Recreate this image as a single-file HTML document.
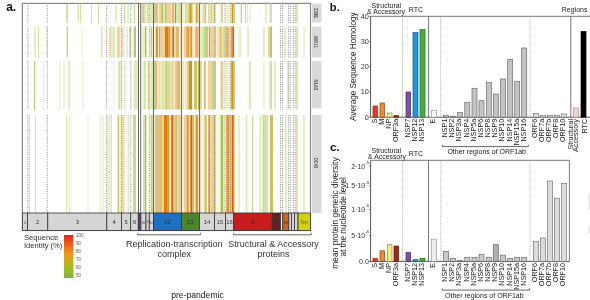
<!DOCTYPE html>
<html><head><meta charset="utf-8"><style>
html,body{margin:0;padding:0;background:#fff;}
body{width:590px;height:300px;overflow:hidden;}
svg{display:block;font-family:"Liberation Sans", sans-serif;filter:blur(0.3px);}
</style></head><body>
<svg width="590" height="300" viewBox="0 0 590 300">
<rect x="22.40" y="3.40" width="288.10" height="227.10" fill="#ffffff" stroke="#8a8a8a" stroke-width="1.2"/>
<rect x="153.50" y="3.50" width="46.10" height="19.50" fill="#faf3de" stroke="none" stroke-width="0.8"/>
<rect x="153.50" y="26.50" width="46.10" height="31.00" fill="#f8edd2" stroke="none" stroke-width="0.8"/>
<rect x="199.60" y="26.50" width="34.90" height="31.00" fill="#fbf5e6" stroke="none" stroke-width="0.8"/>
<rect x="153.50" y="61.00" width="46.10" height="48.50" fill="#f9f2dc" stroke="none" stroke-width="0.8"/>
<rect x="153.50" y="115.00" width="46.10" height="98.00" fill="#f8edd2" stroke="none" stroke-width="0.8"/>
<rect x="199.60" y="115.00" width="34.90" height="98.00" fill="#fbf5e6" stroke="none" stroke-width="0.8"/>
<rect x="66.50" y="3.50" width="1.20" height="19.50" fill="#abcf6c" stroke="none" stroke-width="0.8"/>
<rect x="77.70" y="3.50" width="0.90" height="19.50" fill="#c1dc90" stroke="none" stroke-width="0.8"/>
<rect x="80.20" y="3.50" width="0.80" height="19.50" fill="#c1dc90" stroke="none" stroke-width="0.8"/>
<rect x="91.20" y="3.50" width="0.80" height="19.50" fill="#c1dc90" stroke="none" stroke-width="0.8"/>
<rect x="98.00" y="3.50" width="0.90" height="19.50" fill="#c1dc90" stroke="none" stroke-width="0.8"/>
<rect x="115.60" y="3.50" width="0.90" height="19.50" fill="#c1dc90" stroke="none" stroke-width="0.8"/>
<rect x="124.00" y="3.50" width="0.90" height="19.50" fill="#c1dc90" stroke="none" stroke-width="0.8"/>
<rect x="127.60" y="3.50" width="0.90" height="19.50" fill="#c1dc90" stroke="none" stroke-width="0.8"/>
<rect x="133.80" y="3.50" width="1.20" height="19.50" fill="#c1dc90" stroke="none" stroke-width="0.8"/>
<rect x="141.00" y="3.50" width="1.10" height="19.50" fill="#eef0c8" stroke="none" stroke-width="0.8"/>
<rect x="142.10" y="3.50" width="2.70" height="19.50" fill="#d8d090" stroke="none" stroke-width="0.8"/>
<rect x="144.80" y="3.50" width="1.20" height="19.50" fill="#f3e9b8" stroke="none" stroke-width="0.8"/>
<rect x="146.60" y="3.50" width="2.60" height="19.50" fill="#d5e6ab" stroke="none" stroke-width="0.8"/>
<rect x="150.50" y="3.50" width="2.30" height="19.50" fill="#d5e6ab" stroke="none" stroke-width="0.8"/>
<rect x="154.10" y="3.50" width="1.80" height="19.50" fill="#b6d67c" stroke="none" stroke-width="0.8"/>
<rect x="155.90" y="3.50" width="1.80" height="19.50" fill="#f2ac8a" stroke="none" stroke-width="0.8"/>
<rect x="159.20" y="3.50" width="2.40" height="19.50" fill="#f3cf9a" stroke="none" stroke-width="0.8"/>
<rect x="161.60" y="3.50" width="1.60" height="19.50" fill="#9cc652" stroke="none" stroke-width="0.8"/>
<rect x="163.20" y="3.50" width="1.60" height="19.50" fill="#f3e9b8" stroke="none" stroke-width="0.8"/>
<rect x="164.80" y="3.50" width="1.40" height="19.50" fill="#eab070" stroke="none" stroke-width="0.8"/>
<rect x="166.20" y="3.50" width="1.40" height="19.50" fill="#b6d67c" stroke="none" stroke-width="0.8"/>
<rect x="167.60" y="3.50" width="3.40" height="19.50" fill="#f3cf9a" stroke="none" stroke-width="0.8"/>
<rect x="172.00" y="3.50" width="2.00" height="19.50" fill="#f2ac8a" stroke="none" stroke-width="0.8"/>
<rect x="174.80" y="3.50" width="1.20" height="19.50" fill="#d8920c" stroke="none" stroke-width="0.8"/>
<rect x="176.00" y="3.50" width="3.00" height="19.50" fill="#d5e6ab" stroke="none" stroke-width="0.8"/>
<rect x="179.00" y="3.50" width="1.60" height="19.50" fill="#f3cf9a" stroke="none" stroke-width="0.8"/>
<rect x="181.80" y="3.50" width="1.20" height="19.50" fill="#f3e9b8" stroke="none" stroke-width="0.8"/>
<rect x="185.00" y="3.50" width="1.00" height="19.50" fill="#f3cf9a" stroke="none" stroke-width="0.8"/>
<rect x="186.00" y="3.50" width="2.70" height="19.50" fill="#d5e6ab" stroke="none" stroke-width="0.8"/>
<rect x="188.70" y="3.50" width="0.90" height="19.50" fill="#c3b44a" stroke="none" stroke-width="0.8"/>
<rect x="189.60" y="3.50" width="2.10" height="19.50" fill="#d8920c" stroke="none" stroke-width="0.8"/>
<rect x="191.70" y="3.50" width="0.90" height="19.50" fill="#b6d67c" stroke="none" stroke-width="0.8"/>
<rect x="195.90" y="3.50" width="1.80" height="19.50" fill="#e39430" stroke="none" stroke-width="0.8"/>
<rect x="197.70" y="3.50" width="1.20" height="19.50" fill="#d5e6ab" stroke="none" stroke-width="0.8"/>
<rect x="201.60" y="3.50" width="1.20" height="19.50" fill="#f3e9b8" stroke="none" stroke-width="0.8"/>
<rect x="202.80" y="3.50" width="1.80" height="19.50" fill="#d5e6ab" stroke="none" stroke-width="0.8"/>
<rect x="204.60" y="3.50" width="1.50" height="19.50" fill="#e5b56a" stroke="none" stroke-width="0.8"/>
<rect x="208.20" y="3.50" width="1.20" height="19.50" fill="#d8d090" stroke="none" stroke-width="0.8"/>
<rect x="209.40" y="3.50" width="1.20" height="19.50" fill="#d5e6ab" stroke="none" stroke-width="0.8"/>
<rect x="210.60" y="3.50" width="2.00" height="19.50" fill="#d8d090" stroke="none" stroke-width="0.8"/>
<rect x="212.60" y="3.50" width="1.30" height="19.50" fill="#f3e9b8" stroke="none" stroke-width="0.8"/>
<rect x="213.90" y="3.50" width="1.20" height="19.50" fill="#c3b44a" stroke="none" stroke-width="0.8"/>
<rect x="219.00" y="3.50" width="1.20" height="19.50" fill="#f7f3dd" stroke="none" stroke-width="0.8"/>
<rect x="220.80" y="3.50" width="2.10" height="19.50" fill="#d8d090" stroke="none" stroke-width="0.8"/>
<rect x="225.90" y="3.50" width="3.30" height="19.50" fill="#eef0c8" stroke="none" stroke-width="0.8"/>
<rect x="231.60" y="3.50" width="1.50" height="19.50" fill="#d8920c" stroke="none" stroke-width="0.8"/>
<rect x="233.10" y="3.50" width="1.80" height="19.50" fill="#b6d67c" stroke="none" stroke-width="0.8"/>
<rect x="240.60" y="3.50" width="1.40" height="19.50" fill="#c1dc90" stroke="none" stroke-width="0.8"/>
<rect x="245.00" y="3.50" width="1.00" height="19.50" fill="#c1dc90" stroke="none" stroke-width="0.8"/>
<rect x="247.00" y="3.50" width="1.00" height="19.50" fill="#dbeab8" stroke="none" stroke-width="0.8"/>
<rect x="249.50" y="3.50" width="1.00" height="19.50" fill="#dbeab8" stroke="none" stroke-width="0.8"/>
<rect x="265.50" y="3.50" width="1.00" height="19.50" fill="#c1dc90" stroke="none" stroke-width="0.8"/>
<rect x="269.50" y="3.50" width="1.00" height="19.50" fill="#c1dc90" stroke="none" stroke-width="0.8"/>
<rect x="270.50" y="3.50" width="1.50" height="19.50" fill="#ded7a1" stroke="none" stroke-width="0.8"/>
<rect x="296.50" y="3.50" width="1.00" height="19.50" fill="#ccbf65" stroke="none" stroke-width="0.8"/>
<rect x="34.50" y="26.50" width="1.00" height="31.00" fill="#c1dc90" stroke="none" stroke-width="0.8"/>
<rect x="38.00" y="26.50" width="0.90" height="31.00" fill="#c1dc90" stroke="none" stroke-width="0.8"/>
<rect x="46.50" y="26.50" width="1.00" height="31.00" fill="#dbeab8" stroke="none" stroke-width="0.8"/>
<rect x="66.50" y="26.50" width="1.50" height="31.00" fill="#c1dc90" stroke="none" stroke-width="0.8"/>
<rect x="81.50" y="26.50" width="1.00" height="31.00" fill="#e6f1d4" stroke="none" stroke-width="0.8"/>
<rect x="101.00" y="26.50" width="1.80" height="31.00" fill="#dbeab8" stroke="none" stroke-width="0.8"/>
<rect x="108.80" y="26.50" width="1.10" height="31.00" fill="#dbeab8" stroke="none" stroke-width="0.8"/>
<rect x="109.90" y="26.50" width="1.60" height="31.00" fill="#ecd6a7" stroke="none" stroke-width="0.8"/>
<rect x="111.50" y="26.50" width="1.00" height="31.00" fill="#e6f1d4" stroke="none" stroke-width="0.8"/>
<rect x="112.50" y="26.50" width="2.70" height="31.00" fill="#dbeab8" stroke="none" stroke-width="0.8"/>
<rect x="116.80" y="26.50" width="1.10" height="31.00" fill="#dbeab8" stroke="none" stroke-width="0.8"/>
<rect x="117.90" y="26.50" width="1.00" height="31.00" fill="#debc78" stroke="none" stroke-width="0.8"/>
<rect x="118.90" y="26.50" width="1.60" height="31.00" fill="#dbeab8" stroke="none" stroke-width="0.8"/>
<rect x="121.60" y="26.50" width="2.10" height="31.00" fill="#f7d6c9" stroke="none" stroke-width="0.8"/>
<rect x="125.90" y="26.50" width="2.10" height="31.00" fill="#e6f1d4" stroke="none" stroke-width="0.8"/>
<rect x="129.00" y="26.50" width="2.20" height="31.00" fill="#ded7a1" stroke="none" stroke-width="0.8"/>
<rect x="133.70" y="26.50" width="2.30" height="31.00" fill="#abcf6c" stroke="none" stroke-width="0.8"/>
<rect x="141.20" y="26.50" width="3.80" height="31.00" fill="#eef0c8" stroke="none" stroke-width="0.8"/>
<rect x="145.00" y="26.50" width="1.40" height="31.00" fill="#c3b44a" stroke="none" stroke-width="0.8"/>
<rect x="150.60" y="26.50" width="1.80" height="31.00" fill="#b6d67c" stroke="none" stroke-width="0.8"/>
<rect x="154.00" y="26.50" width="1.50" height="31.00" fill="#f7f3dd" stroke="none" stroke-width="0.8"/>
<rect x="155.70" y="26.50" width="2.30" height="31.00" fill="#e39430" stroke="none" stroke-width="0.8"/>
<rect x="159.00" y="26.50" width="1.40" height="31.00" fill="#9cc652" stroke="none" stroke-width="0.8"/>
<rect x="160.40" y="26.50" width="4.60" height="31.00" fill="#f3cf9a" stroke="none" stroke-width="0.8"/>
<rect x="165.00" y="26.50" width="3.40" height="31.00" fill="#d98000" stroke="none" stroke-width="0.8"/>
<rect x="168.40" y="26.50" width="1.60" height="31.00" fill="#e39430" stroke="none" stroke-width="0.8"/>
<rect x="170.00" y="26.50" width="2.00" height="31.00" fill="#f3cf9a" stroke="none" stroke-width="0.8"/>
<rect x="172.40" y="26.50" width="1.60" height="31.00" fill="#e8581c" stroke="none" stroke-width="0.8"/>
<rect x="174.00" y="26.50" width="2.00" height="31.00" fill="#d5e6ab" stroke="none" stroke-width="0.8"/>
<rect x="176.00" y="26.50" width="3.00" height="31.00" fill="#e5b56a" stroke="none" stroke-width="0.8"/>
<rect x="179.00" y="26.50" width="1.60" height="31.00" fill="#f7f3dd" stroke="none" stroke-width="0.8"/>
<rect x="184.00" y="26.50" width="2.00" height="31.00" fill="#f3cf9a" stroke="none" stroke-width="0.8"/>
<rect x="186.00" y="26.50" width="1.40" height="31.00" fill="#eab070" stroke="none" stroke-width="0.8"/>
<rect x="187.40" y="26.50" width="1.40" height="31.00" fill="#d98000" stroke="none" stroke-width="0.8"/>
<rect x="188.80" y="26.50" width="1.40" height="31.00" fill="#f3cf9a" stroke="none" stroke-width="0.8"/>
<rect x="190.20" y="26.50" width="2.30" height="31.00" fill="#e39430" stroke="none" stroke-width="0.8"/>
<rect x="192.50" y="26.50" width="1.50" height="31.00" fill="#f7f3dd" stroke="none" stroke-width="0.8"/>
<rect x="195.30" y="26.50" width="3.30" height="31.00" fill="#eab070" stroke="none" stroke-width="0.8"/>
<rect x="201.40" y="26.50" width="2.80" height="31.00" fill="#d5e6ab" stroke="none" stroke-width="0.8"/>
<rect x="204.20" y="26.50" width="3.80" height="31.00" fill="#b6d67c" stroke="none" stroke-width="0.8"/>
<rect x="208.90" y="26.50" width="1.40" height="31.00" fill="#e39430" stroke="none" stroke-width="0.8"/>
<rect x="210.30" y="26.50" width="2.80" height="31.00" fill="#f3cf9a" stroke="none" stroke-width="0.8"/>
<rect x="213.10" y="26.50" width="2.80" height="31.00" fill="#d8d090" stroke="none" stroke-width="0.8"/>
<rect x="216.80" y="26.50" width="2.80" height="31.00" fill="#f3e9b8" stroke="none" stroke-width="0.8"/>
<rect x="219.60" y="26.50" width="1.90" height="31.00" fill="#e5b56a" stroke="none" stroke-width="0.8"/>
<rect x="221.50" y="26.50" width="4.20" height="31.00" fill="#d5e6ab" stroke="none" stroke-width="0.8"/>
<rect x="225.70" y="26.50" width="3.70" height="31.00" fill="#e5b56a" stroke="none" stroke-width="0.8"/>
<rect x="231.30" y="26.50" width="1.40" height="31.00" fill="#d98000" stroke="none" stroke-width="0.8"/>
<rect x="232.70" y="26.50" width="1.40" height="31.00" fill="#e8581c" stroke="none" stroke-width="0.8"/>
<rect x="238.30" y="26.50" width="3.30" height="31.00" fill="#e6f1d4" stroke="none" stroke-width="0.8"/>
<rect x="247.50" y="26.50" width="1.00" height="31.00" fill="#c1dc90" stroke="none" stroke-width="0.8"/>
<rect x="263.50" y="26.50" width="1.00" height="31.00" fill="#c1dc90" stroke="none" stroke-width="0.8"/>
<rect x="268.00" y="26.50" width="2.00" height="31.00" fill="#ded7a1" stroke="none" stroke-width="0.8"/>
<rect x="270.00" y="26.50" width="2.00" height="31.00" fill="#ccbf65" stroke="none" stroke-width="0.8"/>
<rect x="284.50" y="26.50" width="1.00" height="31.00" fill="#c1dc90" stroke="none" stroke-width="0.8"/>
<rect x="296.50" y="26.50" width="1.00" height="31.00" fill="#ccbf65" stroke="none" stroke-width="0.8"/>
<rect x="303.50" y="26.50" width="1.00" height="31.00" fill="#dbeab8" stroke="none" stroke-width="0.8"/>
<rect x="34.00" y="61.00" width="1.00" height="48.50" fill="#abcf6c" stroke="none" stroke-width="0.8"/>
<rect x="43.00" y="61.00" width="1.00" height="48.50" fill="#e6f1d4" stroke="none" stroke-width="0.8"/>
<rect x="59.50" y="61.00" width="1.00" height="48.50" fill="#dbeab8" stroke="none" stroke-width="0.8"/>
<rect x="63.50" y="61.00" width="1.00" height="48.50" fill="#dbeab8" stroke="none" stroke-width="0.8"/>
<rect x="68.50" y="61.00" width="1.00" height="48.50" fill="#c1dc90" stroke="none" stroke-width="0.8"/>
<rect x="82.50" y="61.00" width="1.00" height="48.50" fill="#dbeab8" stroke="none" stroke-width="0.8"/>
<rect x="113.30" y="61.00" width="1.00" height="48.50" fill="#e6f1d4" stroke="none" stroke-width="0.8"/>
<rect x="118.40" y="61.00" width="1.60" height="48.50" fill="#ded7a1" stroke="none" stroke-width="0.8"/>
<rect x="120.00" y="61.00" width="2.20" height="48.50" fill="#f1f2d0" stroke="none" stroke-width="0.8"/>
<rect x="123.80" y="61.00" width="2.20" height="48.50" fill="#e6f1d4" stroke="none" stroke-width="0.8"/>
<rect x="133.70" y="61.00" width="3.90" height="48.50" fill="#dbeab8" stroke="none" stroke-width="0.8"/>
<rect x="142.30" y="61.00" width="1.70" height="48.50" fill="#eef0c8" stroke="none" stroke-width="0.8"/>
<rect x="144.00" y="61.00" width="2.00" height="48.50" fill="#d5e6ab" stroke="none" stroke-width="0.8"/>
<rect x="147.70" y="61.00" width="1.30" height="48.50" fill="#d8d090" stroke="none" stroke-width="0.8"/>
<rect x="150.70" y="61.00" width="2.30" height="48.50" fill="#d5e6ab" stroke="none" stroke-width="0.8"/>
<rect x="154.00" y="61.00" width="2.00" height="48.50" fill="#b6d67c" stroke="none" stroke-width="0.8"/>
<rect x="156.00" y="61.00" width="1.00" height="48.50" fill="#f2ac8a" stroke="none" stroke-width="0.8"/>
<rect x="157.00" y="61.00" width="2.00" height="48.50" fill="#f3e9b8" stroke="none" stroke-width="0.8"/>
<rect x="159.00" y="61.00" width="1.00" height="48.50" fill="#d5e6ab" stroke="none" stroke-width="0.8"/>
<rect x="160.00" y="61.00" width="2.00" height="48.50" fill="#f3e9b8" stroke="none" stroke-width="0.8"/>
<rect x="162.00" y="61.00" width="2.00" height="48.50" fill="#d5e6ab" stroke="none" stroke-width="0.8"/>
<rect x="164.00" y="61.00" width="1.30" height="48.50" fill="#f3e9b8" stroke="none" stroke-width="0.8"/>
<rect x="165.30" y="61.00" width="1.70" height="48.50" fill="#b6d67c" stroke="none" stroke-width="0.8"/>
<rect x="167.00" y="61.00" width="3.30" height="48.50" fill="#f3cf9a" stroke="none" stroke-width="0.8"/>
<rect x="170.30" y="61.00" width="1.40" height="48.50" fill="#d5e6ab" stroke="none" stroke-width="0.8"/>
<rect x="171.70" y="61.00" width="2.00" height="48.50" fill="#f3cf9a" stroke="none" stroke-width="0.8"/>
<rect x="175.00" y="61.00" width="1.70" height="48.50" fill="#d8d090" stroke="none" stroke-width="0.8"/>
<rect x="176.70" y="61.00" width="3.30" height="48.50" fill="#e5b56a" stroke="none" stroke-width="0.8"/>
<rect x="182.00" y="61.00" width="2.00" height="48.50" fill="#f3e9b8" stroke="none" stroke-width="0.8"/>
<rect x="185.30" y="61.00" width="1.70" height="48.50" fill="#eef0c8" stroke="none" stroke-width="0.8"/>
<rect x="187.00" y="61.00" width="2.00" height="48.50" fill="#d8d090" stroke="none" stroke-width="0.8"/>
<rect x="189.00" y="61.00" width="3.00" height="48.50" fill="#d8920c" stroke="none" stroke-width="0.8"/>
<rect x="194.00" y="61.00" width="1.00" height="48.50" fill="#b6d67c" stroke="none" stroke-width="0.8"/>
<rect x="195.00" y="61.00" width="2.00" height="48.50" fill="#e5b56a" stroke="none" stroke-width="0.8"/>
<rect x="198.00" y="61.00" width="1.00" height="48.50" fill="#c3b44a" stroke="none" stroke-width="0.8"/>
<rect x="200.00" y="61.00" width="2.00" height="48.50" fill="#d5e6ab" stroke="none" stroke-width="0.8"/>
<rect x="204.00" y="61.00" width="1.70" height="48.50" fill="#e5b56a" stroke="none" stroke-width="0.8"/>
<rect x="208.00" y="61.00" width="3.70" height="48.50" fill="#f3cf9a" stroke="none" stroke-width="0.8"/>
<rect x="211.70" y="61.00" width="1.30" height="48.50" fill="#b6d67c" stroke="none" stroke-width="0.8"/>
<rect x="213.00" y="61.00" width="3.00" height="48.50" fill="#d8d090" stroke="none" stroke-width="0.8"/>
<rect x="219.50" y="61.00" width="1.20" height="48.50" fill="#f7f3dd" stroke="none" stroke-width="0.8"/>
<rect x="220.70" y="61.00" width="2.60" height="48.50" fill="#d8d090" stroke="none" stroke-width="0.8"/>
<rect x="226.00" y="61.00" width="4.00" height="48.50" fill="#eef0c8" stroke="none" stroke-width="0.8"/>
<rect x="231.00" y="61.00" width="1.00" height="48.50" fill="#9cc652" stroke="none" stroke-width="0.8"/>
<rect x="232.00" y="61.00" width="1.30" height="48.50" fill="#d8920c" stroke="none" stroke-width="0.8"/>
<rect x="233.30" y="61.00" width="1.40" height="48.50" fill="#c3b44a" stroke="none" stroke-width="0.8"/>
<rect x="248.70" y="61.00" width="2.60" height="48.50" fill="#dbeab8" stroke="none" stroke-width="0.8"/>
<rect x="263.50" y="61.00" width="1.00" height="48.50" fill="#dbeab8" stroke="none" stroke-width="0.8"/>
<rect x="269.50" y="61.00" width="1.00" height="48.50" fill="#c1dc90" stroke="none" stroke-width="0.8"/>
<rect x="270.50" y="61.00" width="1.50" height="48.50" fill="#ded7a1" stroke="none" stroke-width="0.8"/>
<rect x="274.50" y="61.00" width="1.00" height="48.50" fill="#c1dc90" stroke="none" stroke-width="0.8"/>
<rect x="287.50" y="61.00" width="1.00" height="48.50" fill="#ded7a1" stroke="none" stroke-width="0.8"/>
<rect x="296.50" y="61.00" width="1.00" height="48.50" fill="#ccbf65" stroke="none" stroke-width="0.8"/>
<rect x="29.20" y="115.00" width="0.80" height="98.00" fill="#d4dc8e" stroke="none" stroke-width="0.8"/>
<rect x="35.00" y="115.00" width="0.80" height="98.00" fill="#d4dc8e" stroke="none" stroke-width="0.8"/>
<rect x="66.20" y="115.00" width="0.80" height="98.00" fill="#d4dc8e" stroke="none" stroke-width="0.8"/>
<rect x="68.80" y="115.00" width="0.80" height="98.00" fill="#d4dc8e" stroke="none" stroke-width="0.8"/>
<rect x="71.20" y="115.00" width="0.60" height="98.00" fill="#e6f1d4" stroke="none" stroke-width="0.8"/>
<rect x="87.50" y="115.00" width="1.00" height="98.00" fill="#e6f1d4" stroke="none" stroke-width="0.8"/>
<rect x="99.80" y="115.00" width="1.00" height="98.00" fill="#dbeab8" stroke="none" stroke-width="0.8"/>
<rect x="102.30" y="115.00" width="1.50" height="98.00" fill="#e6f1d4" stroke="none" stroke-width="0.8"/>
<rect x="107.00" y="115.00" width="3.70" height="98.00" fill="#e6f1d4" stroke="none" stroke-width="0.8"/>
<rect x="110.70" y="115.00" width="1.30" height="98.00" fill="#f7d6c9" stroke="none" stroke-width="0.8"/>
<rect x="117.60" y="115.00" width="1.60" height="98.00" fill="#c3c96a" stroke="none" stroke-width="0.8"/>
<rect x="119.20" y="115.00" width="2.30" height="98.00" fill="#f1f2d0" stroke="none" stroke-width="0.8"/>
<rect x="121.50" y="115.00" width="3.00" height="98.00" fill="#f5d6a9" stroke="none" stroke-width="0.8"/>
<rect x="127.60" y="115.00" width="1.50" height="98.00" fill="#dbeab8" stroke="none" stroke-width="0.8"/>
<rect x="133.00" y="115.00" width="3.00" height="98.00" fill="#c1dc90" stroke="none" stroke-width="0.8"/>
<rect x="143.00" y="115.00" width="2.00" height="98.00" fill="#d5e6ab" stroke="none" stroke-width="0.8"/>
<rect x="145.00" y="115.00" width="1.30" height="98.00" fill="#c3b44a" stroke="none" stroke-width="0.8"/>
<rect x="150.70" y="115.00" width="2.00" height="98.00" fill="#b6d67c" stroke="none" stroke-width="0.8"/>
<rect x="154.00" y="115.00" width="1.30" height="98.00" fill="#f3e9b8" stroke="none" stroke-width="0.8"/>
<rect x="155.30" y="115.00" width="1.70" height="98.00" fill="#f2ac8a" stroke="none" stroke-width="0.8"/>
<rect x="157.00" y="115.00" width="3.00" height="98.00" fill="#b6d67c" stroke="none" stroke-width="0.8"/>
<rect x="160.00" y="115.00" width="2.00" height="98.00" fill="#e5b56a" stroke="none" stroke-width="0.8"/>
<rect x="162.00" y="115.00" width="2.00" height="98.00" fill="#f3cf9a" stroke="none" stroke-width="0.8"/>
<rect x="164.00" y="115.00" width="1.00" height="98.00" fill="#d98000" stroke="none" stroke-width="0.8"/>
<rect x="165.00" y="115.00" width="2.70" height="98.00" fill="#d98000" stroke="none" stroke-width="0.8"/>
<rect x="167.70" y="115.00" width="1.30" height="98.00" fill="#e39430" stroke="none" stroke-width="0.8"/>
<rect x="169.00" y="115.00" width="1.70" height="98.00" fill="#f3e9b8" stroke="none" stroke-width="0.8"/>
<rect x="170.70" y="115.00" width="0.60" height="98.00" fill="#f3cf9a" stroke="none" stroke-width="0.8"/>
<rect x="171.30" y="115.00" width="2.00" height="98.00" fill="#e8581c" stroke="none" stroke-width="0.8"/>
<rect x="174.00" y="115.00" width="1.30" height="98.00" fill="#b6d67c" stroke="none" stroke-width="0.8"/>
<rect x="175.30" y="115.00" width="2.00" height="98.00" fill="#e5b56a" stroke="none" stroke-width="0.8"/>
<rect x="177.30" y="115.00" width="1.00" height="98.00" fill="#f3cf9a" stroke="none" stroke-width="0.8"/>
<rect x="178.30" y="115.00" width="2.00" height="98.00" fill="#d8d090" stroke="none" stroke-width="0.8"/>
<rect x="184.00" y="115.00" width="2.70" height="98.00" fill="#f3cf9a" stroke="none" stroke-width="0.8"/>
<rect x="186.70" y="115.00" width="2.00" height="98.00" fill="#e39430" stroke="none" stroke-width="0.8"/>
<rect x="190.00" y="115.00" width="0.70" height="98.00" fill="#e39430" stroke="none" stroke-width="0.8"/>
<rect x="190.70" y="115.00" width="1.30" height="98.00" fill="#e8581c" stroke="none" stroke-width="0.8"/>
<rect x="192.00" y="115.00" width="2.00" height="98.00" fill="#e5b56a" stroke="none" stroke-width="0.8"/>
<rect x="194.00" y="115.00" width="1.70" height="98.00" fill="#eef0c8" stroke="none" stroke-width="0.8"/>
<rect x="195.70" y="115.00" width="2.30" height="98.00" fill="#e39430" stroke="none" stroke-width="0.8"/>
<rect x="200.00" y="115.00" width="1.30" height="98.00" fill="#f3e9b8" stroke="none" stroke-width="0.8"/>
<rect x="204.00" y="115.00" width="1.00" height="98.00" fill="#f3cf9a" stroke="none" stroke-width="0.8"/>
<rect x="205.00" y="115.00" width="2.00" height="98.00" fill="#b6d67c" stroke="none" stroke-width="0.8"/>
<rect x="208.30" y="115.00" width="1.70" height="98.00" fill="#e39430" stroke="none" stroke-width="0.8"/>
<rect x="210.00" y="115.00" width="2.00" height="98.00" fill="#f6cfc0" stroke="none" stroke-width="0.8"/>
<rect x="212.00" y="115.00" width="2.00" height="98.00" fill="#d8d090" stroke="none" stroke-width="0.8"/>
<rect x="214.00" y="115.00" width="1.30" height="98.00" fill="#c3b44a" stroke="none" stroke-width="0.8"/>
<rect x="219.30" y="115.00" width="1.40" height="98.00" fill="#f7f3dd" stroke="none" stroke-width="0.8"/>
<rect x="220.70" y="115.00" width="2.60" height="98.00" fill="#9cc652" stroke="none" stroke-width="0.8"/>
<rect x="223.30" y="115.00" width="1.00" height="98.00" fill="#f3e9b8" stroke="none" stroke-width="0.8"/>
<rect x="226.30" y="115.00" width="3.00" height="98.00" fill="#e39430" stroke="none" stroke-width="0.8"/>
<rect x="229.30" y="115.00" width="2.70" height="98.00" fill="#b6d67c" stroke="none" stroke-width="0.8"/>
<rect x="232.00" y="115.00" width="1.70" height="98.00" fill="#e8581c" stroke="none" stroke-width="0.8"/>
<rect x="233.70" y="115.00" width="0.80" height="98.00" fill="#c3b44a" stroke="none" stroke-width="0.8"/>
<rect x="238.20" y="115.00" width="1.40" height="98.00" fill="#dbeab8" stroke="none" stroke-width="0.8"/>
<rect x="245.70" y="115.00" width="1.70" height="98.00" fill="#dbeab8" stroke="none" stroke-width="0.8"/>
<rect x="252.00" y="115.00" width="1.20" height="98.00" fill="#c1dc90" stroke="none" stroke-width="0.8"/>
<rect x="259.50" y="115.00" width="1.50" height="98.00" fill="#dbeab8" stroke="none" stroke-width="0.8"/>
<rect x="262.50" y="115.00" width="2.00" height="98.00" fill="#c1dc90" stroke="none" stroke-width="0.8"/>
<rect x="264.60" y="115.00" width="1.80" height="98.00" fill="#c1dc90" stroke="none" stroke-width="0.8"/>
<rect x="266.60" y="115.00" width="1.40" height="98.00" fill="#ded7a1" stroke="none" stroke-width="0.8"/>
<rect x="269.80" y="115.00" width="3.20" height="98.00" fill="#ccbf65" stroke="none" stroke-width="0.8"/>
<rect x="285.00" y="115.00" width="1.60" height="98.00" fill="#dbeab8" stroke="none" stroke-width="0.8"/>
<rect x="296.50" y="115.00" width="1.00" height="98.00" fill="#ccbf65" stroke="none" stroke-width="0.8"/>
<rect x="302.50" y="115.00" width="2.50" height="98.00" fill="#e6f1d4" stroke="none" stroke-width="0.8"/>
<line x1="27.8" y1="3.5" x2="27.8" y2="23.0" stroke="#a0a0a0" stroke-width="1.1" stroke-dasharray="1.1,1.2"/>
<line x1="47.3" y1="3.5" x2="47.3" y2="23.0" stroke="#a0a0a0" stroke-width="1.1" stroke-dasharray="1.1,1.2"/>
<line x1="106.6" y1="3.5" x2="106.6" y2="23.0" stroke="#a0a0a0" stroke-width="1.1" stroke-dasharray="1.1,1.2"/>
<line x1="121.5" y1="3.5" x2="121.5" y2="23.0" stroke="#a0a0a0" stroke-width="1.1" stroke-dasharray="1.1,1.2"/>
<line x1="130.7" y1="3.5" x2="130.7" y2="23.0" stroke="#a0a0a0" stroke-width="1.1" stroke-dasharray="1.1,1.2"/>
<line x1="149.5" y1="3.5" x2="149.5" y2="23.0" stroke="#a0a0a0" stroke-width="1.1" stroke-dasharray="1.1,1.2"/>
<line x1="215" y1="3.5" x2="215" y2="23.0" stroke="#a0a0a0" stroke-width="1.1" stroke-dasharray="1.1,1.2"/>
<line x1="225" y1="3.5" x2="225" y2="23.0" stroke="#a0a0a0" stroke-width="1.1" stroke-dasharray="1.1,1.2"/>
<line x1="230.5" y1="3.5" x2="230.5" y2="23.0" stroke="#a0a0a0" stroke-width="1.1" stroke-dasharray="1.1,1.2"/>
<line x1="280.5" y1="3.5" x2="280.5" y2="23.0" stroke="#a0a0a0" stroke-width="1.1" stroke-dasharray="1.1,1.2"/>
<line x1="282.5" y1="3.5" x2="282.5" y2="23.0" stroke="#a0a0a0" stroke-width="1.1" stroke-dasharray="1.1,1.2"/>
<line x1="288.5" y1="3.5" x2="288.5" y2="23.0" stroke="#a0a0a0" stroke-width="1.1" stroke-dasharray="1.1,1.2"/>
<line x1="290.2" y1="3.5" x2="290.2" y2="23.0" stroke="#a0a0a0" stroke-width="1.1" stroke-dasharray="1.1,1.2"/>
<line x1="293.5" y1="3.5" x2="293.5" y2="23.0" stroke="#a0a0a0" stroke-width="1.1" stroke-dasharray="1.1,1.2"/>
<line x1="295.2" y1="3.5" x2="295.2" y2="23.0" stroke="#a0a0a0" stroke-width="1.1" stroke-dasharray="1.1,1.2"/>
<line x1="27.8" y1="26.5" x2="27.8" y2="57.5" stroke="#a0a0a0" stroke-width="1.1" stroke-dasharray="1.1,1.2"/>
<line x1="47.3" y1="26.5" x2="47.3" y2="57.5" stroke="#a0a0a0" stroke-width="1.1" stroke-dasharray="1.1,1.2"/>
<line x1="106.6" y1="26.5" x2="106.6" y2="57.5" stroke="#a0a0a0" stroke-width="1.1" stroke-dasharray="1.1,1.2"/>
<line x1="121.5" y1="26.5" x2="121.5" y2="57.5" stroke="#a0a0a0" stroke-width="1.1" stroke-dasharray="1.1,1.2"/>
<line x1="130.7" y1="26.5" x2="130.7" y2="57.5" stroke="#a0a0a0" stroke-width="1.1" stroke-dasharray="1.1,1.2"/>
<line x1="149.5" y1="26.5" x2="149.5" y2="57.5" stroke="#a0a0a0" stroke-width="1.1" stroke-dasharray="1.1,1.2"/>
<line x1="215" y1="26.5" x2="215" y2="57.5" stroke="#a0a0a0" stroke-width="1.1" stroke-dasharray="1.1,1.2"/>
<line x1="225" y1="26.5" x2="225" y2="57.5" stroke="#a0a0a0" stroke-width="1.1" stroke-dasharray="1.1,1.2"/>
<line x1="230.5" y1="26.5" x2="230.5" y2="57.5" stroke="#a0a0a0" stroke-width="1.1" stroke-dasharray="1.1,1.2"/>
<line x1="280.5" y1="26.5" x2="280.5" y2="57.5" stroke="#a0a0a0" stroke-width="1.1" stroke-dasharray="1.1,1.2"/>
<line x1="282.5" y1="26.5" x2="282.5" y2="57.5" stroke="#a0a0a0" stroke-width="1.1" stroke-dasharray="1.1,1.2"/>
<line x1="288.5" y1="26.5" x2="288.5" y2="57.5" stroke="#a0a0a0" stroke-width="1.1" stroke-dasharray="1.1,1.2"/>
<line x1="290.2" y1="26.5" x2="290.2" y2="57.5" stroke="#a0a0a0" stroke-width="1.1" stroke-dasharray="1.1,1.2"/>
<line x1="293.5" y1="26.5" x2="293.5" y2="57.5" stroke="#a0a0a0" stroke-width="1.1" stroke-dasharray="1.1,1.2"/>
<line x1="295.2" y1="26.5" x2="295.2" y2="57.5" stroke="#a0a0a0" stroke-width="1.1" stroke-dasharray="1.1,1.2"/>
<line x1="27.8" y1="61.0" x2="27.8" y2="109.5" stroke="#a0a0a0" stroke-width="1.1" stroke-dasharray="1.1,1.2"/>
<line x1="47.3" y1="61.0" x2="47.3" y2="109.5" stroke="#a0a0a0" stroke-width="1.1" stroke-dasharray="1.1,1.2"/>
<line x1="106.6" y1="61.0" x2="106.6" y2="109.5" stroke="#a0a0a0" stroke-width="1.1" stroke-dasharray="1.1,1.2"/>
<line x1="121.5" y1="61.0" x2="121.5" y2="109.5" stroke="#a0a0a0" stroke-width="1.1" stroke-dasharray="1.1,1.2"/>
<line x1="130.7" y1="61.0" x2="130.7" y2="109.5" stroke="#a0a0a0" stroke-width="1.1" stroke-dasharray="1.1,1.2"/>
<line x1="149.5" y1="61.0" x2="149.5" y2="109.5" stroke="#a0a0a0" stroke-width="1.1" stroke-dasharray="1.1,1.2"/>
<line x1="215" y1="61.0" x2="215" y2="109.5" stroke="#a0a0a0" stroke-width="1.1" stroke-dasharray="1.1,1.2"/>
<line x1="225" y1="61.0" x2="225" y2="109.5" stroke="#a0a0a0" stroke-width="1.1" stroke-dasharray="1.1,1.2"/>
<line x1="230.5" y1="61.0" x2="230.5" y2="109.5" stroke="#a0a0a0" stroke-width="1.1" stroke-dasharray="1.1,1.2"/>
<line x1="280.5" y1="61.0" x2="280.5" y2="109.5" stroke="#a0a0a0" stroke-width="1.1" stroke-dasharray="1.1,1.2"/>
<line x1="282.5" y1="61.0" x2="282.5" y2="109.5" stroke="#a0a0a0" stroke-width="1.1" stroke-dasharray="1.1,1.2"/>
<line x1="288.5" y1="61.0" x2="288.5" y2="109.5" stroke="#a0a0a0" stroke-width="1.1" stroke-dasharray="1.1,1.2"/>
<line x1="290.2" y1="61.0" x2="290.2" y2="109.5" stroke="#a0a0a0" stroke-width="1.1" stroke-dasharray="1.1,1.2"/>
<line x1="293.5" y1="61.0" x2="293.5" y2="109.5" stroke="#a0a0a0" stroke-width="1.1" stroke-dasharray="1.1,1.2"/>
<line x1="295.2" y1="61.0" x2="295.2" y2="109.5" stroke="#a0a0a0" stroke-width="1.1" stroke-dasharray="1.1,1.2"/>
<line x1="27.8" y1="115.0" x2="27.8" y2="213.0" stroke="#a0a0a0" stroke-width="1.1" stroke-dasharray="1.1,1.2"/>
<line x1="47.3" y1="115.0" x2="47.3" y2="213.0" stroke="#a0a0a0" stroke-width="1.1" stroke-dasharray="1.1,1.2"/>
<line x1="106.6" y1="115.0" x2="106.6" y2="213.0" stroke="#a0a0a0" stroke-width="1.1" stroke-dasharray="1.1,1.2"/>
<line x1="121.5" y1="115.0" x2="121.5" y2="213.0" stroke="#a0a0a0" stroke-width="1.1" stroke-dasharray="1.1,1.2"/>
<line x1="130.7" y1="115.0" x2="130.7" y2="213.0" stroke="#a0a0a0" stroke-width="1.1" stroke-dasharray="1.1,1.2"/>
<line x1="149.5" y1="115.0" x2="149.5" y2="213.0" stroke="#a0a0a0" stroke-width="1.1" stroke-dasharray="1.1,1.2"/>
<line x1="215" y1="115.0" x2="215" y2="213.0" stroke="#a0a0a0" stroke-width="1.1" stroke-dasharray="1.1,1.2"/>
<line x1="225" y1="115.0" x2="225" y2="213.0" stroke="#a0a0a0" stroke-width="1.1" stroke-dasharray="1.1,1.2"/>
<line x1="230.5" y1="115.0" x2="230.5" y2="213.0" stroke="#a0a0a0" stroke-width="1.1" stroke-dasharray="1.1,1.2"/>
<line x1="280.5" y1="115.0" x2="280.5" y2="213.0" stroke="#a0a0a0" stroke-width="1.1" stroke-dasharray="1.1,1.2"/>
<line x1="282.5" y1="115.0" x2="282.5" y2="213.0" stroke="#a0a0a0" stroke-width="1.1" stroke-dasharray="1.1,1.2"/>
<line x1="288.5" y1="115.0" x2="288.5" y2="213.0" stroke="#a0a0a0" stroke-width="1.1" stroke-dasharray="1.1,1.2"/>
<line x1="290.2" y1="115.0" x2="290.2" y2="213.0" stroke="#a0a0a0" stroke-width="1.1" stroke-dasharray="1.1,1.2"/>
<line x1="293.5" y1="115.0" x2="293.5" y2="213.0" stroke="#a0a0a0" stroke-width="1.1" stroke-dasharray="1.1,1.2"/>
<line x1="295.2" y1="115.0" x2="295.2" y2="213.0" stroke="#a0a0a0" stroke-width="1.1" stroke-dasharray="1.1,1.2"/>
<line x1="138.5" y1="3" x2="138.5" y2="213" stroke="#555" stroke-width="0.9"/>
<line x1="140.7" y1="3" x2="140.7" y2="213" stroke="#555" stroke-width="0.9"/>
<line x1="153.5" y1="3" x2="153.5" y2="213" stroke="#555" stroke-width="0.9"/>
<line x1="181.4" y1="3" x2="181.4" y2="213" stroke="#555" stroke-width="0.9"/>
<line x1="199.6" y1="3" x2="199.6" y2="213" stroke="#555" stroke-width="0.9"/>
<rect x="311.80" y="3.50" width="9.70" height="19.00" fill="#d9d9d9" stroke="none" stroke-width="0.8"/>
<text transform="translate(314.2,13.0) rotate(90)" font-size="5.6" font-weight="bold" text-anchor="middle" fill="#555" textLength="10" lengthAdjust="spacingAndGlyphs">229E</text>
<rect x="311.80" y="26.50" width="9.70" height="31.00" fill="#d9d9d9" stroke="none" stroke-width="0.8"/>
<text transform="translate(314.2,42.0) rotate(90)" font-size="5.6" font-weight="bold" text-anchor="middle" fill="#555" textLength="11.5" lengthAdjust="spacingAndGlyphs">HKU1</text>
<rect x="311.80" y="61.00" width="9.70" height="47.50" fill="#d9d9d9" stroke="none" stroke-width="0.8"/>
<text transform="translate(314.2,84.8) rotate(90)" font-size="5.6" font-weight="bold" text-anchor="middle" fill="#555" textLength="10.5" lengthAdjust="spacingAndGlyphs">NL63</text>
<rect x="311.80" y="115.00" width="9.70" height="98.00" fill="#d9d9d9" stroke="none" stroke-width="0.8"/>
<text transform="translate(314.2,163.0) rotate(90)" font-size="5.6" font-weight="bold" text-anchor="middle" fill="#555" textLength="10.5" lengthAdjust="spacingAndGlyphs">OC43</text>
<rect x="22.50" y="213.00" width="5.10" height="17.50" fill="#d6d6d6" stroke="#333" stroke-width="0.8"/>
<rect x="27.60" y="213.00" width="20.20" height="17.50" fill="#d6d6d6" stroke="#333" stroke-width="0.8"/>
<rect x="47.80" y="213.00" width="59.00" height="17.50" fill="#d6d6d6" stroke="#333" stroke-width="0.8"/>
<rect x="106.80" y="213.00" width="14.70" height="17.50" fill="#d6d6d6" stroke="#333" stroke-width="0.8"/>
<rect x="121.50" y="213.00" width="9.20" height="17.50" fill="#d6d6d6" stroke="#333" stroke-width="0.8"/>
<rect x="130.70" y="213.00" width="7.60" height="17.50" fill="#d6d6d6" stroke="#333" stroke-width="0.8"/>
<rect x="138.30" y="213.00" width="2.60" height="17.50" fill="#6a3a96" stroke="#333" stroke-width="0.8"/>
<rect x="140.90" y="213.00" width="5.10" height="17.50" fill="#d6d6d6" stroke="#333" stroke-width="0.8"/>
<rect x="146.00" y="213.00" width="3.30" height="17.50" fill="#d6d6d6" stroke="#333" stroke-width="0.8"/>
<rect x="149.30" y="213.00" width="4.20" height="17.50" fill="#d6d6d6" stroke="#333" stroke-width="0.8"/>
<rect x="153.50" y="213.00" width="27.90" height="17.50" fill="#1f6fc2" stroke="#333" stroke-width="0.8"/>
<rect x="181.40" y="213.00" width="18.10" height="17.50" fill="#4b852c" stroke="#333" stroke-width="0.8"/>
<rect x="199.50" y="213.00" width="15.10" height="17.50" fill="#d6d6d6" stroke="#333" stroke-width="0.8"/>
<rect x="214.60" y="213.00" width="10.90" height="17.50" fill="#d6d6d6" stroke="#333" stroke-width="0.8"/>
<rect x="225.50" y="213.00" width="8.20" height="17.50" fill="#d6d6d6" stroke="#333" stroke-width="0.8"/>
<rect x="233.70" y="213.00" width="38.60" height="17.50" fill="#c91c1c" stroke="#333" stroke-width="0.8"/>
<rect x="272.30" y="213.00" width="8.20" height="17.50" fill="#6a1f1c" stroke="#333" stroke-width="0.8"/>
<rect x="280.50" y="213.00" width="2.30" height="17.50" fill="#f0f0f0" stroke="#333" stroke-width="0.8"/>
<rect x="282.80" y="213.00" width="6.00" height="17.50" fill="#d2621a" stroke="#333" stroke-width="0.8"/>
<rect x="288.80" y="213.00" width="2.80" height="17.50" fill="#d6d6d6" stroke="#333" stroke-width="0.8"/>
<rect x="291.60" y="213.00" width="3.00" height="17.50" fill="#d6d6d6" stroke="#333" stroke-width="0.8"/>
<rect x="294.60" y="213.00" width="3.40" height="17.50" fill="#d6d6d6" stroke="#333" stroke-width="0.8"/>
<rect x="298.00" y="213.00" width="12.50" height="17.50" fill="#d4cf14" stroke="#333" stroke-width="0.8"/>
<text x="25.1" y="223.9" font-size="4.4" text-anchor="middle" fill="#333">1</text>
<text x="37.7" y="223.9" font-size="5.8" text-anchor="middle" fill="#333">2</text>
<text x="77.3" y="223.9" font-size="5.8" text-anchor="middle" fill="#333">3</text>
<text x="114.2" y="223.9" font-size="5.8" text-anchor="middle" fill="#333">4</text>
<text x="126.1" y="223.9" font-size="5.8" text-anchor="middle" fill="#333">5</text>
<text x="134.5" y="223.9" font-size="5.8" text-anchor="middle" fill="#333">6</text>
<text x="143.4" y="223.9" font-size="4.4" text-anchor="middle" fill="#333">8</text>
<text x="147.7" y="223.3" font-size="3.6" text-anchor="middle" fill="#333">9</text>
<text x="151.4" y="223.9" font-size="4.4" text-anchor="middle" fill="#333">10</text>
<text x="167.4" y="223.9" font-size="5.8" text-anchor="middle" fill="#333">12</text>
<text x="190.4" y="223.9" font-size="5.8" text-anchor="middle" fill="#333">13</text>
<text x="207.1" y="223.9" font-size="5.8" text-anchor="middle" fill="#333">14</text>
<text x="220.1" y="223.9" font-size="5.8" text-anchor="middle" fill="#333">15</text>
<text x="229.6" y="223.9" font-size="5.8" text-anchor="middle" fill="#333">16</text>
<text x="253.0" y="223.9" font-size="5.8" text-anchor="middle" fill="#333">S</text>
<text x="276.4" y="223.9" font-size="5.8" text-anchor="middle" fill="#333">3a</text>
<text x="285.8" y="223.9" font-size="4.4" text-anchor="middle" fill="#333">M</text>
<text x="304.2" y="223.9" font-size="5.8" text-anchor="middle" fill="#3a7a2a">Np</text>
<text x="6.2" y="11.3" font-size="12.0" text-anchor="start" fill="#111" font-weight="bold">a.</text>
<defs><linearGradient id="lg" x1="0" y1="0" x2="0" y2="1"><stop offset="0" stop-color="#e4261e"/><stop offset="0.25" stop-color="#ec6a1c"/><stop offset="0.45" stop-color="#eb9a1e"/><stop offset="0.62" stop-color="#c9ad22"/><stop offset="0.8" stop-color="#9cba2c"/><stop offset="1" stop-color="#72b43a"/></linearGradient></defs>
<rect x="64.00" y="235.00" width="9.40" height="43.00" fill="url(#lg)" stroke="none" stroke-width="0.8"/>
<text x="24" y="239.6" font-size="7.6" text-anchor="start" fill="#333" font-weight="normal">Sequence</text>
<text x="24" y="248.2" font-size="7.6" text-anchor="start" fill="#333" font-weight="normal">Identity (%)</text>
<text x="76" y="237.2" font-size="4.6" text-anchor="start" fill="#555" font-weight="normal">100</text>
<text x="76" y="245.14999999999998" font-size="4.6" text-anchor="start" fill="#555" font-weight="normal">90</text>
<text x="76" y="253.1" font-size="4.6" text-anchor="start" fill="#555" font-weight="normal">80</text>
<text x="76" y="261.05" font-size="4.6" text-anchor="start" fill="#555" font-weight="normal">70</text>
<text x="76" y="269.0" font-size="4.6" text-anchor="start" fill="#555" font-weight="normal">60</text>
<text x="76" y="276.95" font-size="4.6" text-anchor="start" fill="#555" font-weight="normal">50</text>
<path d="M137.8,232.8 L137.8,234.8 L200.4,234.8 L200.4,232.8" fill="none" stroke="#555" stroke-width="0.9"/>
<path d="M233.7,232.8 L233.7,234.8 L311.2,234.8 L311.2,232.8" fill="none" stroke="#555" stroke-width="0.9"/>
<text x="174.3" y="247.2" font-size="9.0" text-anchor="middle" fill="#333" font-weight="normal">Replication-transcription</text>
<text x="174.3" y="256.8" font-size="9.0" text-anchor="middle" fill="#333" font-weight="normal">complex</text>
<text x="273.4" y="247.4" font-size="9.0" text-anchor="middle" fill="#333" font-weight="normal">Structural &amp; Accessory</text>
<text x="273.4" y="257" font-size="9.0" text-anchor="middle" fill="#333" font-weight="normal">proteins</text>
<text x="197.5" y="298.2" font-size="8.6" text-anchor="middle" fill="#222" font-weight="normal">pre-pandemic</text>
<text x="329.8" y="11.0" font-size="11.2" text-anchor="start" fill="#111" font-weight="bold">b.</text>
<text x="329.9" y="151.2" font-size="11.6" text-anchor="start" fill="#111" font-weight="bold">c.</text>
<line x1="370.6" y1="16.3" x2="590" y2="16.3" stroke="#555" stroke-width="0.8"/>
<line x1="370.6" y1="16.3" x2="370.6" y2="117.2" stroke="#444" stroke-width="0.9"/>
<line x1="370.6" y1="117.2" x2="590" y2="117.2" stroke="#444" stroke-width="0.9"/>
<line x1="402.5" y1="16.3" x2="402.5" y2="117.2" stroke="#999" stroke-width="0.6" stroke-dasharray="1.5,0.8"/>
<line x1="440.6" y1="16.3" x2="440.6" y2="117.2" stroke="#999" stroke-width="0.6" stroke-dasharray="1.5,0.8"/>
<line x1="530" y1="16.3" x2="530" y2="117.2" stroke="#999" stroke-width="0.6" stroke-dasharray="1.5,0.8"/>
<line x1="428.6" y1="16.3" x2="428.6" y2="117.2" stroke="#555" stroke-width="0.8"/>
<line x1="570.8" y1="16.3" x2="570.8" y2="117.2" stroke="#555" stroke-width="0.8"/>
<rect x="373.00" y="106.00" width="4.40" height="11.20" fill="#e53b24" stroke="#8a2a1a" stroke-width="0.7"/>
<rect x="380.00" y="103.00" width="4.60" height="14.20" fill="#ef8a2f" stroke="#8a4a1a" stroke-width="0.7"/>
<rect x="387.40" y="113.00" width="4.60" height="4.20" fill="#f2ee6a" stroke="#888" stroke-width="0.7"/>
<rect x="394.00" y="115.60" width="4.60" height="1.60" fill="#a3271d" stroke="#5a1a10" stroke-width="0.7"/>
<rect x="406.00" y="92.00" width="4.60" height="25.20" fill="#7d52a3" stroke="#4a2a6a" stroke-width="0.7"/>
<rect x="413.00" y="32.60" width="5.00" height="84.60" fill="#1a9ad9" stroke="#1a5a8a" stroke-width="0.7"/>
<rect x="420.00" y="29.60" width="5.00" height="87.60" fill="#46ad3a" stroke="#2a6a2a" stroke-width="0.7"/>
<rect x="431.50" y="110.40" width="5.00" height="6.80" fill="#ffffff" stroke="#999" stroke-width="0.7"/>
<rect x="443.50" y="115.60" width="5.00" height="1.60" fill="#c4c4c4" stroke="#6a6a6a" stroke-width="0.7"/>
<rect x="450.50" y="116.20" width="5.00" height="1.00" fill="#c4c4c4" stroke="#6a6a6a" stroke-width="0.7"/>
<rect x="457.60" y="112.60" width="5.00" height="4.60" fill="#c4c4c4" stroke="#6a6a6a" stroke-width="0.7"/>
<rect x="464.80" y="102.30" width="5.00" height="14.90" fill="#c4c4c4" stroke="#6a6a6a" stroke-width="0.7"/>
<rect x="472.00" y="88.30" width="5.00" height="28.90" fill="#c4c4c4" stroke="#6a6a6a" stroke-width="0.7"/>
<rect x="479.00" y="100.70" width="5.00" height="16.50" fill="#c4c4c4" stroke="#6a6a6a" stroke-width="0.7"/>
<rect x="486.30" y="82.30" width="5.00" height="34.90" fill="#c4c4c4" stroke="#6a6a6a" stroke-width="0.7"/>
<rect x="493.30" y="94.00" width="5.00" height="23.20" fill="#c4c4c4" stroke="#6a6a6a" stroke-width="0.7"/>
<rect x="500.60" y="79.00" width="5.00" height="38.20" fill="#c4c4c4" stroke="#6a6a6a" stroke-width="0.7"/>
<rect x="507.70" y="59.30" width="5.00" height="57.90" fill="#c4c4c4" stroke="#6a6a6a" stroke-width="0.7"/>
<rect x="514.70" y="81.30" width="5.00" height="35.90" fill="#c4c4c4" stroke="#6a6a6a" stroke-width="0.7"/>
<rect x="521.70" y="48.00" width="5.00" height="69.20" fill="#c4c4c4" stroke="#6a6a6a" stroke-width="0.7"/>
<rect x="533.40" y="113.40" width="5.00" height="3.80" fill="#dcdcdc" stroke="#777" stroke-width="0.7"/>
<rect x="540.60" y="115.40" width="5.00" height="1.80" fill="#dcdcdc" stroke="#777" stroke-width="0.7"/>
<rect x="547.40" y="115.40" width="5.00" height="1.80" fill="#dcdcdc" stroke="#777" stroke-width="0.7"/>
<rect x="554.60" y="115.40" width="5.00" height="1.80" fill="#dcdcdc" stroke="#777" stroke-width="0.7"/>
<rect x="561.40" y="114.00" width="5.00" height="3.20" fill="#dcdcdc" stroke="#777" stroke-width="0.7"/>
<rect x="573.60" y="108.00" width="4.80" height="9.20" fill="#f6cfc6" stroke="#999" stroke-width="0.7"/>
<rect x="581.00" y="31.50" width="5.00" height="85.70" fill="#000" stroke="#000" stroke-width="0.7"/>
<text x="368.8" y="119.5" font-size="7.3" text-anchor="end" fill="#333" font-weight="normal">0</text>
<line x1="369.2" y1="117.2" x2="370.6" y2="117.2" stroke="#444" stroke-width="0.7"/>
<text x="368.8" y="94.27499999999999" font-size="7.3" text-anchor="end" fill="#333" font-weight="normal">10</text>
<line x1="369.2" y1="91.975" x2="370.6" y2="91.975" stroke="#444" stroke-width="0.7"/>
<text x="368.8" y="69.05" font-size="7.3" text-anchor="end" fill="#333" font-weight="normal">20</text>
<line x1="369.2" y1="66.75" x2="370.6" y2="66.75" stroke="#444" stroke-width="0.7"/>
<text x="368.8" y="43.825" font-size="7.3" text-anchor="end" fill="#333" font-weight="normal">30</text>
<line x1="369.2" y1="41.525000000000006" x2="370.6" y2="41.525000000000006" stroke="#444" stroke-width="0.7"/>
<text x="368.8" y="18.599999999999998" font-size="7.3" text-anchor="end" fill="#333" font-weight="normal">40</text>
<line x1="369.2" y1="16.299999999999997" x2="370.6" y2="16.299999999999997" stroke="#444" stroke-width="0.7"/>
<line x1="375.2" y1="117.2" x2="375.2" y2="118.5" stroke="#444" stroke-width="0.6"/>
<text transform="translate(376.5,118.8) rotate(-90)" font-size="7.2" text-anchor="end" fill="#222">S</text>
<line x1="382.3" y1="117.2" x2="382.3" y2="118.5" stroke="#444" stroke-width="0.6"/>
<text transform="translate(383.6,118.8) rotate(-90)" font-size="7.2" text-anchor="end" fill="#222">M</text>
<line x1="389.7" y1="117.2" x2="389.7" y2="118.5" stroke="#444" stroke-width="0.6"/>
<text transform="translate(391.0,118.8) rotate(-90)" font-size="7.2" text-anchor="end" fill="#222">NP</text>
<line x1="396.3" y1="117.2" x2="396.3" y2="118.5" stroke="#444" stroke-width="0.6"/>
<text transform="translate(397.6,118.8) rotate(-90)" font-size="7.2" text-anchor="end" fill="#222">ORF3a</text>
<line x1="408.3" y1="117.2" x2="408.3" y2="118.5" stroke="#444" stroke-width="0.6"/>
<text transform="translate(409.6,118.8) rotate(-90)" font-size="7.2" text-anchor="end" fill="#222">NSP7</text>
<line x1="415.5" y1="117.2" x2="415.5" y2="118.5" stroke="#444" stroke-width="0.6"/>
<text transform="translate(416.8,118.8) rotate(-90)" font-size="7.2" text-anchor="end" fill="#222">NSP12</text>
<line x1="422.5" y1="117.2" x2="422.5" y2="118.5" stroke="#444" stroke-width="0.6"/>
<text transform="translate(423.8,118.8) rotate(-90)" font-size="7.2" text-anchor="end" fill="#222">NSP13</text>
<line x1="434.0" y1="117.2" x2="434.0" y2="118.5" stroke="#444" stroke-width="0.6"/>
<text transform="translate(435.3,118.8) rotate(-90)" font-size="7.2" text-anchor="end" fill="#222">E</text>
<line x1="446.0" y1="117.2" x2="446.0" y2="118.5" stroke="#444" stroke-width="0.6"/>
<text transform="translate(447.3,118.8) rotate(-90)" font-size="7.2" text-anchor="end" fill="#222">NSP1</text>
<line x1="453.0" y1="117.2" x2="453.0" y2="118.5" stroke="#444" stroke-width="0.6"/>
<text transform="translate(454.3,118.8) rotate(-90)" font-size="7.2" text-anchor="end" fill="#222">NSP2</text>
<line x1="460.1" y1="117.2" x2="460.1" y2="118.5" stroke="#444" stroke-width="0.6"/>
<text transform="translate(461.4,118.8) rotate(-90)" font-size="7.2" text-anchor="end" fill="#222">NSP3a</text>
<line x1="467.3" y1="117.2" x2="467.3" y2="118.5" stroke="#444" stroke-width="0.6"/>
<text transform="translate(468.6,118.8) rotate(-90)" font-size="7.2" text-anchor="end" fill="#222">NSP4</text>
<line x1="474.5" y1="117.2" x2="474.5" y2="118.5" stroke="#444" stroke-width="0.6"/>
<text transform="translate(475.8,118.8) rotate(-90)" font-size="7.2" text-anchor="end" fill="#222">NSP5a</text>
<line x1="481.5" y1="117.2" x2="481.5" y2="118.5" stroke="#444" stroke-width="0.6"/>
<text transform="translate(482.8,118.8) rotate(-90)" font-size="7.2" text-anchor="end" fill="#222">NSP6</text>
<line x1="488.8" y1="117.2" x2="488.8" y2="118.5" stroke="#444" stroke-width="0.6"/>
<text transform="translate(490.1,118.8) rotate(-90)" font-size="7.2" text-anchor="end" fill="#222">NSP8</text>
<line x1="495.8" y1="117.2" x2="495.8" y2="118.5" stroke="#444" stroke-width="0.6"/>
<text transform="translate(497.1,118.8) rotate(-90)" font-size="7.2" text-anchor="end" fill="#222">NSP9</text>
<line x1="503.1" y1="117.2" x2="503.1" y2="118.5" stroke="#444" stroke-width="0.6"/>
<text transform="translate(504.4,118.8) rotate(-90)" font-size="7.2" text-anchor="end" fill="#222">NSP10</text>
<line x1="510.20000000000005" y1="117.2" x2="510.20000000000005" y2="118.5" stroke="#444" stroke-width="0.6"/>
<text transform="translate(511.5,118.8) rotate(-90)" font-size="7.2" text-anchor="end" fill="#222">NSP14</text>
<line x1="517.2" y1="117.2" x2="517.2" y2="118.5" stroke="#444" stroke-width="0.6"/>
<text transform="translate(518.5,118.8) rotate(-90)" font-size="7.2" text-anchor="end" fill="#222">NSP15a</text>
<line x1="524.2" y1="117.2" x2="524.2" y2="118.5" stroke="#444" stroke-width="0.6"/>
<text transform="translate(525.5,118.8) rotate(-90)" font-size="7.2" text-anchor="end" fill="#222">NSP16</text>
<line x1="535.9" y1="117.2" x2="535.9" y2="118.5" stroke="#444" stroke-width="0.6"/>
<text transform="translate(537.2,118.8) rotate(-90)" font-size="7.2" text-anchor="end" fill="#222">ORF6</text>
<line x1="543.1" y1="117.2" x2="543.1" y2="118.5" stroke="#444" stroke-width="0.6"/>
<text transform="translate(544.4,118.8) rotate(-90)" font-size="7.2" text-anchor="end" fill="#222">ORF7a</text>
<line x1="549.9" y1="117.2" x2="549.9" y2="118.5" stroke="#444" stroke-width="0.6"/>
<text transform="translate(551.2,118.8) rotate(-90)" font-size="7.2" text-anchor="end" fill="#222">ORF7b</text>
<line x1="557.1" y1="117.2" x2="557.1" y2="118.5" stroke="#444" stroke-width="0.6"/>
<text transform="translate(558.4,118.8) rotate(-90)" font-size="7.2" text-anchor="end" fill="#222">ORF8</text>
<line x1="563.9" y1="117.2" x2="563.9" y2="118.5" stroke="#444" stroke-width="0.6"/>
<text transform="translate(565.2,118.8) rotate(-90)" font-size="7.2" text-anchor="end" fill="#222">ORF10</text>
<text transform="translate(573.4,118.8) rotate(-90)" font-size="7.2" text-anchor="end" fill="#222">Structural</text>
<text transform="translate(577.8,118.8) rotate(-90)" font-size="7.2" text-anchor="end" fill="#222">Accessory</text>
<text transform="translate(586.9,118.8) rotate(-90)" font-size="7.2" text-anchor="end" fill="#222">RTC</text>
<text x="386.3" y="8.4" font-size="6.9" text-anchor="middle" fill="#222" font-weight="normal">Structural</text>
<text x="386.0" y="14.2" font-size="6.9" text-anchor="middle" fill="#222" font-weight="normal">&amp; Accessory</text>
<text x="416" y="11.5" font-size="7.0" text-anchor="middle" fill="#222" font-weight="normal">RTC</text>
<text x="574.6" y="12.1" font-size="7.0" text-anchor="middle" fill="#222" font-weight="normal">Regions</text>
<text transform="translate(355.9,66.7) rotate(-90)" font-size="8.2" text-anchor="middle" fill="#222">Average Sequence Homology</text>
<path d="M442.4,144.79999999999998 L442.4,146.6 L528.4,146.6 L528.4,144.79999999999998" fill="none" stroke="#555" stroke-width="0.9"/>
<text x="486.7" y="153.5" font-size="7.0" text-anchor="middle" fill="#222" font-weight="normal">Other regions of ORF1ab</text>
<line x1="370.6" y1="160.3" x2="569.4" y2="160.3" stroke="#555" stroke-width="0.8"/>
<line x1="370.6" y1="160.3" x2="370.6" y2="261.4" stroke="#444" stroke-width="0.9"/>
<line x1="569.4" y1="160.3" x2="569.4" y2="261.4" stroke="#555" stroke-width="0.8"/>
<line x1="370.6" y1="261.4" x2="569.4" y2="261.4" stroke="#444" stroke-width="0.9"/>
<line x1="402.6" y1="160.3" x2="402.6" y2="261.4" stroke="#999" stroke-width="0.6" stroke-dasharray="1.5,0.8"/>
<line x1="440.8" y1="160.3" x2="440.8" y2="261.4" stroke="#999" stroke-width="0.6" stroke-dasharray="1.5,0.8"/>
<line x1="530" y1="160.3" x2="530" y2="261.4" stroke="#999" stroke-width="0.6" stroke-dasharray="1.5,0.8"/>
<line x1="428.5" y1="160.3" x2="428.5" y2="261.4" stroke="#555" stroke-width="0.8"/>
<rect x="373.00" y="258.50" width="4.40" height="2.90" fill="#e53b24" stroke="#8a2a1a" stroke-width="0.7"/>
<rect x="380.00" y="250.80" width="4.60" height="10.60" fill="#ef8a2f" stroke="#8a4a1a" stroke-width="0.7"/>
<rect x="387.40" y="244.70" width="4.60" height="16.70" fill="#f2ee6a" stroke="#888" stroke-width="0.7"/>
<rect x="394.00" y="246.10" width="4.60" height="15.30" fill="#a3271d" stroke="#5a1a10" stroke-width="0.7"/>
<rect x="406.00" y="252.50" width="4.60" height="8.90" fill="#7d52a3" stroke="#4a2a6a" stroke-width="0.7"/>
<rect x="413.00" y="259.70" width="5.00" height="1.70" fill="#1a9ad9" stroke="#1a5a8a" stroke-width="0.7"/>
<rect x="420.00" y="258.30" width="5.00" height="3.10" fill="#46ad3a" stroke="#2a6a2a" stroke-width="0.7"/>
<rect x="431.50" y="239.20" width="5.00" height="22.20" fill="#efefef" stroke="#999" stroke-width="0.7"/>
<rect x="443.50" y="251.40" width="5.00" height="10.00" fill="#cacaca" stroke="#6a6a6a" stroke-width="0.7"/>
<rect x="450.50" y="258.40" width="5.00" height="3.00" fill="#cacaca" stroke="#6a6a6a" stroke-width="0.7"/>
<rect x="457.60" y="260.30" width="5.00" height="1.10" fill="#cacaca" stroke="#6a6a6a" stroke-width="0.7"/>
<rect x="464.80" y="257.30" width="5.00" height="4.10" fill="#cacaca" stroke="#6a6a6a" stroke-width="0.7"/>
<rect x="472.00" y="257.30" width="5.00" height="4.10" fill="#cacaca" stroke="#6a6a6a" stroke-width="0.7"/>
<rect x="479.00" y="254.50" width="5.00" height="6.90" fill="#cacaca" stroke="#6a6a6a" stroke-width="0.7"/>
<rect x="486.30" y="257.30" width="5.00" height="4.10" fill="#cacaca" stroke="#6a6a6a" stroke-width="0.7"/>
<rect x="493.30" y="244.70" width="5.00" height="16.70" fill="#b0b0b0" stroke="#666" stroke-width="0.7"/>
<rect x="500.60" y="255.20" width="5.00" height="6.20" fill="#cacaca" stroke="#6a6a6a" stroke-width="0.7"/>
<rect x="507.70" y="258.40" width="5.00" height="3.00" fill="#cacaca" stroke="#6a6a6a" stroke-width="0.7"/>
<rect x="514.70" y="257.30" width="5.00" height="4.10" fill="#cacaca" stroke="#6a6a6a" stroke-width="0.7"/>
<rect x="521.70" y="257.30" width="5.00" height="4.10" fill="#cacaca" stroke="#6a6a6a" stroke-width="0.7"/>
<rect x="533.40" y="241.50" width="5.00" height="19.90" fill="#dcdcdc" stroke="#777" stroke-width="0.7"/>
<rect x="540.60" y="238.00" width="5.00" height="23.40" fill="#dcdcdc" stroke="#777" stroke-width="0.7"/>
<rect x="547.40" y="181.00" width="5.00" height="80.40" fill="#dcdcdc" stroke="#777" stroke-width="0.7"/>
<rect x="554.60" y="198.30" width="5.00" height="63.10" fill="#dcdcdc" stroke="#777" stroke-width="0.7"/>
<rect x="561.40" y="183.40" width="5.00" height="78.00" fill="#dcdcdc" stroke="#777" stroke-width="0.7"/>
<line x1="375.2" y1="261.4" x2="375.2" y2="262.7" stroke="#444" stroke-width="0.6"/>
<text transform="translate(376.5,263.0) rotate(-90)" font-size="7.2" text-anchor="end" fill="#222">S</text>
<line x1="382.3" y1="261.4" x2="382.3" y2="262.7" stroke="#444" stroke-width="0.6"/>
<text transform="translate(383.6,263.0) rotate(-90)" font-size="7.2" text-anchor="end" fill="#222">M</text>
<line x1="389.7" y1="261.4" x2="389.7" y2="262.7" stroke="#444" stroke-width="0.6"/>
<text transform="translate(391.0,263.0) rotate(-90)" font-size="7.2" text-anchor="end" fill="#222">NP</text>
<line x1="396.3" y1="261.4" x2="396.3" y2="262.7" stroke="#444" stroke-width="0.6"/>
<text transform="translate(397.6,263.0) rotate(-90)" font-size="7.2" text-anchor="end" fill="#222">ORF3a</text>
<line x1="408.3" y1="261.4" x2="408.3" y2="262.7" stroke="#444" stroke-width="0.6"/>
<text transform="translate(409.6,263.0) rotate(-90)" font-size="7.2" text-anchor="end" fill="#222">NSP7</text>
<line x1="415.5" y1="261.4" x2="415.5" y2="262.7" stroke="#444" stroke-width="0.6"/>
<text transform="translate(416.8,263.0) rotate(-90)" font-size="7.2" text-anchor="end" fill="#222">NSP12</text>
<line x1="422.5" y1="261.4" x2="422.5" y2="262.7" stroke="#444" stroke-width="0.6"/>
<text transform="translate(423.8,263.0) rotate(-90)" font-size="7.2" text-anchor="end" fill="#222">NSP13</text>
<line x1="434.0" y1="261.4" x2="434.0" y2="262.7" stroke="#444" stroke-width="0.6"/>
<text transform="translate(435.3,263.0) rotate(-90)" font-size="7.2" text-anchor="end" fill="#222">E</text>
<line x1="446.0" y1="261.4" x2="446.0" y2="262.7" stroke="#444" stroke-width="0.6"/>
<text transform="translate(447.3,263.0) rotate(-90)" font-size="7.2" text-anchor="end" fill="#222">NSP1</text>
<line x1="453.0" y1="261.4" x2="453.0" y2="262.7" stroke="#444" stroke-width="0.6"/>
<text transform="translate(454.3,263.0) rotate(-90)" font-size="7.2" text-anchor="end" fill="#222">NSP2</text>
<line x1="460.1" y1="261.4" x2="460.1" y2="262.7" stroke="#444" stroke-width="0.6"/>
<text transform="translate(461.4,263.0) rotate(-90)" font-size="7.2" text-anchor="end" fill="#222">NSP3a</text>
<line x1="467.3" y1="261.4" x2="467.3" y2="262.7" stroke="#444" stroke-width="0.6"/>
<text transform="translate(468.6,263.0) rotate(-90)" font-size="7.2" text-anchor="end" fill="#222">NSP4</text>
<line x1="474.5" y1="261.4" x2="474.5" y2="262.7" stroke="#444" stroke-width="0.6"/>
<text transform="translate(475.8,263.0) rotate(-90)" font-size="7.2" text-anchor="end" fill="#222">NSP5a</text>
<line x1="481.5" y1="261.4" x2="481.5" y2="262.7" stroke="#444" stroke-width="0.6"/>
<text transform="translate(482.8,263.0) rotate(-90)" font-size="7.2" text-anchor="end" fill="#222">NSP6</text>
<line x1="488.8" y1="261.4" x2="488.8" y2="262.7" stroke="#444" stroke-width="0.6"/>
<text transform="translate(490.1,263.0) rotate(-90)" font-size="7.2" text-anchor="end" fill="#222">NSP8</text>
<line x1="495.8" y1="261.4" x2="495.8" y2="262.7" stroke="#444" stroke-width="0.6"/>
<text transform="translate(497.1,263.0) rotate(-90)" font-size="7.2" text-anchor="end" fill="#222">NSP9</text>
<line x1="503.1" y1="261.4" x2="503.1" y2="262.7" stroke="#444" stroke-width="0.6"/>
<text transform="translate(504.4,263.0) rotate(-90)" font-size="7.2" text-anchor="end" fill="#222">NSP10</text>
<line x1="510.20000000000005" y1="261.4" x2="510.20000000000005" y2="262.7" stroke="#444" stroke-width="0.6"/>
<text transform="translate(511.5,263.0) rotate(-90)" font-size="7.2" text-anchor="end" fill="#222">NSP14</text>
<line x1="517.2" y1="261.4" x2="517.2" y2="262.7" stroke="#444" stroke-width="0.6"/>
<text transform="translate(518.5,263.0) rotate(-90)" font-size="7.2" text-anchor="end" fill="#222">NSP15a</text>
<line x1="524.2" y1="261.4" x2="524.2" y2="262.7" stroke="#444" stroke-width="0.6"/>
<text transform="translate(525.5,263.0) rotate(-90)" font-size="7.2" text-anchor="end" fill="#222">NSP16</text>
<line x1="535.9" y1="261.4" x2="535.9" y2="262.7" stroke="#444" stroke-width="0.6"/>
<text transform="translate(537.2,263.0) rotate(-90)" font-size="7.2" text-anchor="end" fill="#222">ORF6</text>
<line x1="543.1" y1="261.4" x2="543.1" y2="262.7" stroke="#444" stroke-width="0.6"/>
<text transform="translate(544.4,263.0) rotate(-90)" font-size="7.2" text-anchor="end" fill="#222">ORF7a</text>
<line x1="549.9" y1="261.4" x2="549.9" y2="262.7" stroke="#444" stroke-width="0.6"/>
<text transform="translate(551.2,263.0) rotate(-90)" font-size="7.2" text-anchor="end" fill="#222">ORF7b</text>
<line x1="557.1" y1="261.4" x2="557.1" y2="262.7" stroke="#444" stroke-width="0.6"/>
<text transform="translate(558.4,263.0) rotate(-90)" font-size="7.2" text-anchor="end" fill="#222">ORF8</text>
<line x1="563.9" y1="261.4" x2="563.9" y2="262.7" stroke="#444" stroke-width="0.6"/>
<text transform="translate(565.2,263.0) rotate(-90)" font-size="7.2" text-anchor="end" fill="#222">ORF10</text>
<line x1="369.2" y1="261.5" x2="370.6" y2="261.5" stroke="#444" stroke-width="0.7"/>
<text x="368.8" y="264.0" font-size="7" text-anchor="end" fill="#333">0.0</text>
<line x1="369.2" y1="235.5" x2="370.6" y2="235.5" stroke="#444" stroke-width="0.7"/>
<text x="365.2" y="238.0" font-size="7" text-anchor="end" fill="#333">5·10</text>
<text x="365.4" y="233.3" font-size="4.4" fill="#333">-6</text>
<line x1="369.2" y1="209.6" x2="370.6" y2="209.6" stroke="#444" stroke-width="0.7"/>
<text x="365.2" y="212.1" font-size="7" text-anchor="end" fill="#333">1·10</text>
<text x="365.4" y="207.4" font-size="4.4" fill="#333">-5</text>
<line x1="369.2" y1="185.8" x2="370.6" y2="185.8" stroke="#444" stroke-width="0.7"/>
<text x="365.2" y="188.3" font-size="7" text-anchor="end" fill="#333">1.5·10</text>
<text x="365.4" y="183.6" font-size="4.4" fill="#333">-5</text>
<line x1="369.2" y1="166.2" x2="370.6" y2="166.2" stroke="#444" stroke-width="0.7"/>
<text x="365.2" y="168.7" font-size="7" text-anchor="end" fill="#333">2·10</text>
<text x="365.4" y="164.0" font-size="4.4" fill="#333">-5</text>
<text x="386.3" y="152.5" font-size="6.9" text-anchor="middle" fill="#222" font-weight="normal">Structural</text>
<text x="387.0" y="158.6" font-size="6.9" text-anchor="middle" fill="#222" font-weight="normal">&amp; Accessory</text>
<text x="416" y="155.6" font-size="7.0" text-anchor="middle" fill="#222" font-weight="normal">RTC</text>
<text transform="translate(338.2,213) rotate(-90)" font-size="8.4" text-anchor="middle" fill="#222">mean protein genetic diversity</text>
<text transform="translate(345.7,216.8) rotate(-90)" font-size="8.2" text-anchor="middle" fill="#222">at the nucleotide level</text>
<path d="M442.3,288.3 L442.3,290.1 L529.7,290.1 L529.7,288.3" fill="none" stroke="#555" stroke-width="0.9"/>
<text x="484.3" y="297.6" font-size="7.0" text-anchor="middle" fill="#222" font-weight="normal">Other regions of ORF1ab</text>
<rect x="588.60" y="193.60" width="3.40" height="15.90" fill="#dedede" stroke="none" stroke-width="0.8"/>
<rect x="588.60" y="226.70" width="3.40" height="6.60" fill="#dedede" stroke="none" stroke-width="0.8"/>
</svg></body></html>
